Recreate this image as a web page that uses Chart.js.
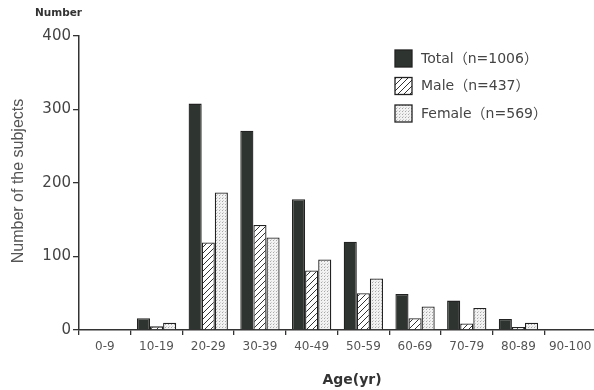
<!DOCTYPE html>
<html>
<head>
<meta charset="utf-8">
<script src="https://cdn.jsdelivr.net/npm/chart.js@4/dist/chart.umd.min.js"></script>
<style>
  html, body { margin: 0; padding: 0; background: #fff; overflow: hidden; }
  #wrap { width: 598px; height: 390px; }
</style>
</head>
<body>
<div id="wrap"><canvas id="age-chart" width="598" height="390"></canvas></div>
<script>
// chart data
const ageGroups = ['0-9', '10-19', '20-29', '30-39', '40-49', '50-59', '60-69', '70-79', '80-89', '90-100'];
const totalCounts = [0, 16, 308, 271, 178, 120, 49, 40, 15, 0];
const maleCounts = [0, 5, 119, 143, 81, 50, 16, 9, 4, 0];
const femaleCounts = [0, 10, 187, 126, 96, 70, 32, 30, 10, 0];
const seriesLabels = ['Total\uFF08n=1006\uFF09', 'Male\uFF08n=437\uFF09', 'Female\uFF08n=569\uFF09'];
const yTicks = [0, 100, 200, 300, 400];

const fontFamily = '"DejaVu Sans", "Noto Sans CJK JP", sans-serif';
const textColor = '#444';

// hatch pattern for male bars
function makeHatch() {
  const c = document.createElement('canvas');
  c.width = 6;
  c.height = 6;
  const g = c.getContext('2d');
  g.fillStyle = '#fff';
  g.fillRect(0, 0, 6, 6);
  g.strokeStyle = '#333';
  g.lineWidth = 1;
  g.beginPath();
  g.moveTo(0, 6); g.lineTo(6, 0);
  g.moveTo(-3, 3); g.lineTo(3, -3);
  g.moveTo(3, 9); g.lineTo(9, 3);
  g.stroke();
  return g.createPattern(c, 'repeat');
}

// stipple pattern for female bars
function makeDots() {
  const c = document.createElement('canvas');
  c.width = 3;
  c.height = 3;
  const g = c.getContext('2d');
  g.fillStyle = '#f2f2f2';
  g.fillRect(0, 0, 3, 3);
  g.fillStyle = '#a8a8a8';
  g.fillRect(0, 0, 1, 1);
  g.fillStyle = '#d0d0d0';
  g.fillRect(1, 2, 1, 1);
  return g.createPattern(c, 'repeat');
}

const fills = ['#2e342f', makeHatch(), makeDots()];

// axis captions and legend drawn on top
const extrasPlugin = {
  id: 'extras',
  afterDraw(chart) {
    const ctx = chart.ctx;
    ctx.save();
    ctx.textBaseline = 'middle';

    // small caption above the y axis
    ctx.fillStyle = '#333';
    ctx.font = 'bold 10.5px ' + fontFamily;
    ctx.textAlign = 'left';
    ctx.fillText('Number', 35, 13);

    // x axis title
    ctx.font = 'bold 14px ' + fontFamily;
    ctx.textAlign = 'center';
    ctx.fillText('Age(yr)', 352, 380);

    // y axis title
    ctx.save();
    ctx.translate(19, 181);
    ctx.rotate(-Math.PI / 2);
    ctx.fillStyle = '#555';
    ctx.font = '16px "Liberation Sans", Arial, sans-serif';
    ctx.fillText('Number of the subjects', 0, 0);
    ctx.restore();

    // legend
    ctx.textAlign = 'left';
    seriesLabels.forEach((label, i) => {
      const y = 50 + i * 27.5;
      ctx.fillStyle = fills[i];
      ctx.fillRect(395, y, 17, 17);
      ctx.strokeStyle = '#222';
      ctx.lineWidth = 1.3;
      ctx.strokeRect(395, y, 17, 17);
      ctx.fillStyle = textColor;
      ctx.font = '14px ' + fontFamily;
      ctx.fillText(label, 421, y + 9);
    });
    ctx.restore();
  }
};

const ctx = document.getElementById('age-chart').getContext('2d');

new Chart(ctx, {
  type: 'bar',
  data: {
    labels: ageGroups,
    datasets: [totalCounts, maleCounts, femaleCounts].map((values, i) => ({
      label: seriesLabels[i],
      data: values,
      backgroundColor: fills[i],
      borderColor: '#222',
      borderWidth: 1.3,
      categoryPercentage: 0.76,
      barPercentage: 1.0
    }))
  },
  options: {
    responsive: false,
    animation: false,
    devicePixelRatio: 1,
    layout: { padding: { top: 36, left: 0, right: 2, bottom: 0 } },
    plugins: {
      legend: { display: false },
      tooltip: { enabled: false }
    },
    scales: {
      x: {
        offset: true,
        grid: { display: true, drawOnChartArea: false, offset: true, drawTicks: true, tickLength: 5, color: '#333', lineWidth: 1.3 },
        border: { display: true, color: '#333', width: 1.5 },
        ticks: { color: '#555', font: { family: fontFamily, size: 12 }, padding: 5, maxRotation: 0, autoSkip: false },
        afterFit(scale) { scale.height = 60; }
      },
      y: {
        min: 0,
        max: 400,
        afterBuildTicks(scale) { scale.ticks = yTicks.map(v => ({ value: v })); },
        grid: { display: true, drawOnChartArea: false, drawTicks: true, tickLength: 6, color: '#333', lineWidth: 1.3 },
        border: { display: true, color: '#333', width: 1.5 },
        ticks: { color: textColor, font: { family: fontFamily, size: 15 }, padding: 2 },
        afterFit(scale) { scale.width = 79; }
      }
    }
  },
  plugins: [extrasPlugin]
});
</script>
</body>
</html>
